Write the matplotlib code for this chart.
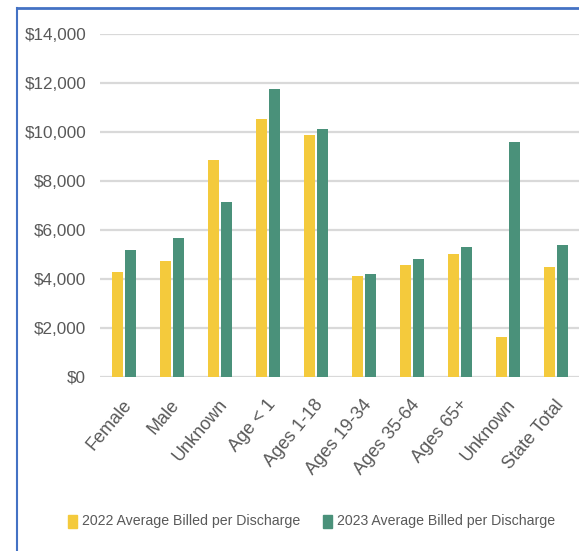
import numpy as np
import matplotlib.pyplot as plt
from matplotlib.lines import Line2D
from matplotlib.patches import Rectangle
from matplotlib.ticker import FuncFormatter
from matplotlib.transforms import ScaledTranslation

# chart values
categories = ['Female', 'Male', 'Unknown', 'Age < 1', 'Ages 1-18',
              'Ages 19-34', 'Ages 35-64', 'Ages 65+', 'Unknown', 'State Total']
billed_2022 = [4300, 4720, 8840, 10530, 9880, 4110, 4580, 5010, 1630, 4500]
billed_2023 = [5190, 5660, 7160, 11740, 10130, 4200, 4800, 5290, 9580, 5370]
series_names = ['2022 Average Billed per Discharge',
                '2023 Average Billed per Discharge']

yellow = '#F4CA3C'
green = '#4A917A'
label_grey = '#595959'

plt.rcParams['font.family'] = ['Liberation Sans', 'DejaVu Sans']

W, H = 579, 551
fig = plt.figure(figsize=(W / 100, H / 100), dpi=100)
ax = fig.add_axes([100 / W, 1 - 377 / H, 480 / W, (377 - 34) / H])

x = np.arange(len(categories))
w = 0.23
gap = 0.05
ax.bar(x - (w + gap) / 2, billed_2022, width=w, color=yellow, zorder=3)
ax.bar(x + (w + gap) / 2, billed_2023, width=w, color=green, zorder=3)

ax.set_xlim(-0.5, len(categories) - 0.5)
ax.set_ylim(0, 14000)
ax.set_yticks(np.arange(0, 14001, 2000))
ax.yaxis.set_major_formatter(FuncFormatter(lambda v, p: f'${v:,.0f}'))
ax.grid(axis='y', color='#D9D9D9', linewidth=1.6, zorder=0)
for s in ax.spines.values():
    s.set_visible(False)

ax.set_xticks(x)
ax.set_xticklabels(categories, rotation=50, ha='right', va='top',
                   rotation_mode='anchor')
ax.tick_params(axis='both', length=0, colors=label_grey)
ax.tick_params(axis='y', labelsize=12.3, pad=10)
ax.tick_params(axis='x', labelsize=13, pad=14)
shift = ScaledTranslation(-2 / 100, 0, fig.dpi_scale_trans)
for lab in ax.get_xticklabels():
    lab.set_transform(lab.get_transform() + shift)

# legend drawn by hand so the squares and texts sit where the original has them
legend_x = [68, 323]        # left edge of each colour square, pixels
legend_y = 521
for xs, col, name in zip(legend_x, [yellow, green], series_names):
    fig.add_artist(Rectangle((xs / W, 1 - (legend_y + 6.5) / H), 9 / W, 13 / H,
                             transform=fig.transFigure, color=col))
    t = fig.text((xs + 14) / W, 1 - legend_y / H, name, color=label_grey,
                 ha='left', va='center', fontsize=12)
    # fit text to the width it has in the original (about 218 px)
    fig.canvas.draw()
    bw = t.get_window_extent().width
    t.set_fontsize(12 * 218 / bw)

# blue frame lines (top and left) of the original screenshot
fig.add_artist(Line2D([17 / W, 1], [1 - 8 / H, 1 - 8 / H],
                      transform=fig.transFigure, color='#4472C4', linewidth=2))
fig.add_artist(Line2D([17 / W, 17 / W], [0, 1 - 8 / H],
                      transform=fig.transFigure, color='#4472C4', linewidth=1.5))

fig.savefig('out.png', dpi=100)
